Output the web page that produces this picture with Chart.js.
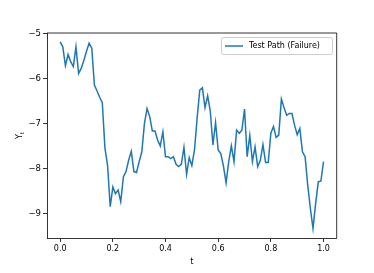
<!DOCTYPE html>
<html>
<head>
<meta charset="utf-8">
<script src="https://cdn.jsdelivr.net/npm/chart.js@4.4.1/dist/chart.umd.min.js"></script>
<style>
  html, body { margin: 0; padding: 0; background: #fff; }
  canvas { display: block; }
</style>
</head>
<body>
<canvas id="chart" width="374" height="273"></canvas>
<script>
// ── Data ─────────────────────────────────────────────────
const seriesLabel = 'Test Path (Failure)';

const tValues = [
  0.00, 0.01, 0.02, 0.03, 0.04, 0.05, 0.06, 0.07, 0.08, 0.09,
  0.10, 0.11, 0.12, 0.13, 0.14, 0.15, 0.16, 0.17, 0.18, 0.19,
  0.20, 0.21, 0.22, 0.23, 0.24, 0.25, 0.26, 0.27, 0.28, 0.29,
  0.30, 0.31, 0.32, 0.33, 0.34, 0.35, 0.36, 0.37, 0.38, 0.39,
  0.40, 0.41, 0.42, 0.43, 0.44, 0.45, 0.46, 0.47, 0.48, 0.49,
  0.50, 0.51, 0.52, 0.53, 0.54, 0.55, 0.56, 0.57, 0.58, 0.59,
  0.60, 0.61, 0.62, 0.63, 0.64, 0.65, 0.66, 0.67, 0.68, 0.69,
  0.70, 0.71, 0.72, 0.73, 0.74, 0.75, 0.76, 0.77, 0.78, 0.79,
  0.80, 0.81, 0.82, 0.83, 0.84, 0.85, 0.86, 0.87, 0.88, 0.89,
  0.90, 0.91, 0.92, 0.93, 0.94, 0.95, 0.96, 0.97, 0.98, 0.99,
  1.00
];

const yValues = [
  -5.19, -5.30, -5.72, -5.47, -5.63, -5.74, -5.30, -5.89, -5.78, -5.60,
  -5.40, -5.22, -5.33, -6.15, -6.28, -6.42, -6.54, -7.55, -7.93, -8.85,
  -8.41, -8.56, -8.48, -8.74, -8.19, -8.07, -7.82, -7.62, -8.07, -8.09,
  -7.85, -7.63, -7.00, -6.67, -6.85, -7.17, -7.17, -7.37, -7.50, -7.19,
  -7.74, -7.74, -7.78, -7.74, -7.91, -7.96, -7.91, -7.53, -8.13, -7.76,
  -7.94, -7.59, -6.89, -6.26, -6.21, -6.65, -6.39, -6.73, -7.48, -6.98,
  -7.59, -7.67, -7.95, -8.32, -7.85, -7.50, -7.85, -7.15, -7.22, -7.15,
  -6.68, -7.74, -7.27, -7.85, -7.52, -7.96, -7.82, -7.47, -7.87, -7.87,
  -7.22, -7.07, -7.31, -7.26, -6.46, -6.65, -6.82, -6.78, -6.78, -7.04,
  -7.25, -7.11, -7.63, -7.74, -8.37, -8.89, -9.33, -8.78, -8.30, -8.28,
  -7.85
];

const xTicks      = [0, 0.2, 0.4, 0.6, 0.8, 1.0];
const xTickLabels = ['0.0', '0.2', '0.4', '0.6', '0.8', '1.0'];
const yTicks      = [-9, -8, -7, -6, -5];
const yTickLabels = ['\u22129', '\u22128', '\u22127', '\u22126', '\u22125'];

// ── Style ────────────────────────────────────────────────
const LINE_COLOR = '#1f77b4';
const FONT       = 'DejaVu Sans';
const FONT_SIZE  = 8;

// ── Frame + labels + legend plugin ───────────────────────
const decorations = {
  id: 'decorations',
  afterDraw(chart) {
    const { ctx, chartArea: a } = chart;
    ctx.save();

    // top + right spines
    ctx.strokeStyle = '#000';
    ctx.lineWidth = 0.8;
    ctx.beginPath();
    ctx.moveTo(a.left, a.top);
    ctx.lineTo(a.right, a.top);
    ctx.lineTo(a.right, a.bottom);
    ctx.stroke();

    // x title
    ctx.fillStyle = '#000';
    ctx.font = `${FONT_SIZE}px "${FONT}"`;
    ctx.textAlign = 'center';
    ctx.textBaseline = 'middle';
    ctx.fillText('t', (a.left + a.right) / 2, 262);

    // y title  (Y with subscript t)
    ctx.save();
    ctx.translate(20, (a.top + a.bottom) / 2);
    ctx.rotate(-Math.PI / 2);
    const wY = ctx.measureText('Y').width;
    ctx.font = `${FONT_SIZE * 0.7}px "${FONT}"`;
    const wT = ctx.measureText('t').width;
    const x0 = -(wY + wT) / 2;
    ctx.textAlign = 'left';
    ctx.font = `${FONT_SIZE}px "${FONT}"`;
    ctx.fillText('Y', x0, 0);
    ctx.font = `${FONT_SIZE * 0.7}px "${FONT}"`;
    ctx.fillText('t', x0 + wY, 2.5);
    ctx.restore();

    // legend
    const lx = 221.5, ly = 37.5, lw = 111, lh = 17;
    ctx.fillStyle = 'rgba(255,255,255,0.8)';
    ctx.strokeStyle = '#cccccc';
    ctx.lineWidth = 1;
    ctx.beginPath();
    ctx.roundRect(lx, ly, lw, lh, 2);
    ctx.fill();
    ctx.stroke();

    ctx.strokeStyle = LINE_COLOR;
    ctx.lineWidth = 1.5;
    ctx.beginPath();
    ctx.moveTo(225, ly + lh / 2);
    ctx.lineTo(243, ly + lh / 2);
    ctx.stroke();

    ctx.fillStyle = '#000';
    ctx.font = `${FONT_SIZE}px "${FONT}"`;
    ctx.textAlign = 'left';
    ctx.textBaseline = 'middle';
    ctx.fillText(chart.data.datasets[0].label, 249, ly + lh / 2);

    ctx.restore();
  }
};

// ── Chart ────────────────────────────────────────────────
const ctx = document.getElementById('chart').getContext('2d');
new Chart(ctx, {
  type: 'line',
  data: {
    datasets: [{
      label:       seriesLabel,
      data:        tValues.map((t, i) => ({ x: t, y: yValues[i] })),
      borderColor: LINE_COLOR,
      borderWidth: 1.5,
      pointRadius: 0,
      tension:     0,
      fill:        false
    }]
  },
  options: {
    responsive: false,
    animation:  false,
    layout: { padding: { left: 0, top: 33, right: 37.3, bottom: 0 } },
    plugins: {
      legend:  { display: false },
      tooltip: { enabled: false }
    },
    scales: {
      x: {
        type: 'linear',
        min: -0.05, max: 1.05,
        afterBuildTicks: s => { s.ticks = xTicks.map(v => ({ value: v })); },
        afterFit: s => { s.height = 35; },
        ticks: {
          color: '#000',
          font: { family: FONT, size: FONT_SIZE },
          padding: 2,
          maxRotation: 0,
          callback: v => xTickLabels[xTicks.indexOf(v)] ?? ''
        },
        grid:   { drawOnChartArea: false, tickLength: 4, color: '#000', lineWidth: 0.8 },
        border: { color: '#000', width: 0.8 }
      },
      y: {
        type: 'linear',
        min: -9.545, max: -4.993,
        afterBuildTicks: s => { s.ticks = yTicks.map(v => ({ value: v })); },
        afterFit: s => { s.width = 47; },
        ticks: {
          color: '#000',
          font: { family: FONT, size: 8.5 },
          padding: 2,
          callback: v => yTickLabels[yTicks.indexOf(v)] ?? ''
        },
        grid:   { drawOnChartArea: false, tickLength: 4, color: '#000', lineWidth: 0.8 },
        border: { color: '#000', width: 0.8 }
      }
    }
  },
  plugins: [decorations]
});
</script>
</body>
</html>
